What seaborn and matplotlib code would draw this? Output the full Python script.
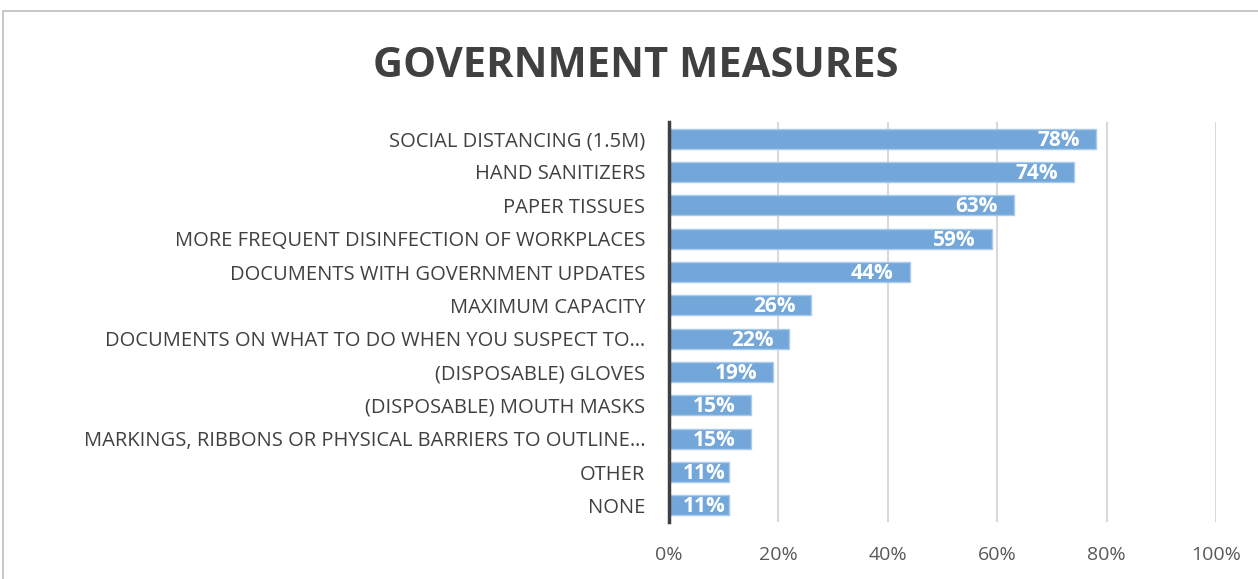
import matplotlib
matplotlib.use("Agg")
import matplotlib.pyplot as plt
import seaborn as sns
import pandas as pd
from matplotlib.patches import Rectangle

categories = [
    "SOCIAL DISTANCING (1.5M)",
    "HAND SANITIZERS",
    "PAPER TISSUES",
    "MORE FREQUENT DISINFECTION OF WORKPLACES",
    "DOCUMENTS WITH GOVERNMENT UPDATES",
    "MAXIMUM CAPACITY",
    "DOCUMENTS ON WHAT TO DO WHEN YOU SUSPECT TO\u2026",
    "(DISPOSABLE) GLOVES",
    "(DISPOSABLE) MOUTH MASKS",
    "MARKINGS, RIBBONS OR PHYSICAL BARRIERS TO OUTLINE\u2026",
    "OTHER",
    "NONE",
]
values = [78, 74, 63, 59, 44, 26, 22, 19, 15, 15, 11, 11]
x_ticks = [0, 20, 40, 60, 80, 100]
x_tick_labels = ["0%", "20%", "40%", "60%", "80%", "100%"]

df = pd.DataFrame({"measure": categories, "share": values})

sns.set_theme(style="white")
plt.rcParams["font.family"] = ["Open Sans", "DejaVu Sans"]

fig = plt.figure(figsize=(12.58, 5.79), dpi=100)
ax = fig.add_axes([0.5318, 0.0984, 0.4348, 0.6909])

# outer chart frame
fig.patches.append(Rectangle((0.0024, -0.05), 1.1, 1.031, transform=fig.transFigure,
                             fill=False, edgecolor="#bfbfbf", linewidth=1.2))

sns.barplot(data=df, x="share", y="measure", orient="h", ax=ax,
            color="#73A7DA", edgecolor="#A9CBEC", linewidth=1.0,
            width=0.6, saturation=1)

ax.set_xlim(0, 100)
ax.set_xticks(x_ticks)
ax.set_xticklabels(x_tick_labels, fontsize=14, color="#595959")
ax.tick_params(axis="y", labelsize=14.5, labelcolor="#404040", length=0, pad=17)
ax.tick_params(axis="x", length=0, pad=17)
ax.set_xlabel("")
ax.set_ylabel("")

ax.grid(axis="x", color="#d9d9d9", linewidth=1.5)
ax.set_axisbelow(True)
for s in ["top", "right", "bottom"]:
    ax.spines[s].set_visible(False)
ax.spines["left"].set_color("#404040")
ax.spines["left"].set_linewidth(2.5)
ax.spines["left"].set_zorder(5)

# value labels inside the bar ends; short bars pull the label toward the end
px_per_unit = ax.get_window_extent().width / 100.0
label_w_px, margin_px = 41, 16
for i, v in enumerate(values):
    room = v * px_per_unit - label_w_px - margin_px
    off_px = min(margin_px, max(room, 2))
    ax.annotate(f"{v}%", xy=(v, i), xytext=(-off_px * 0.72, -1), textcoords="offset points",
                ha="right", va="center", color="white", fontsize=15,
                fontweight="bold", zorder=6)

fig.text(0.505, 0.885, "GOVERNMENT MEASURES", ha="center", va="center",
         fontsize=30, fontweight="bold", color="#404040")

fig.savefig("out.png", dpi=100)
